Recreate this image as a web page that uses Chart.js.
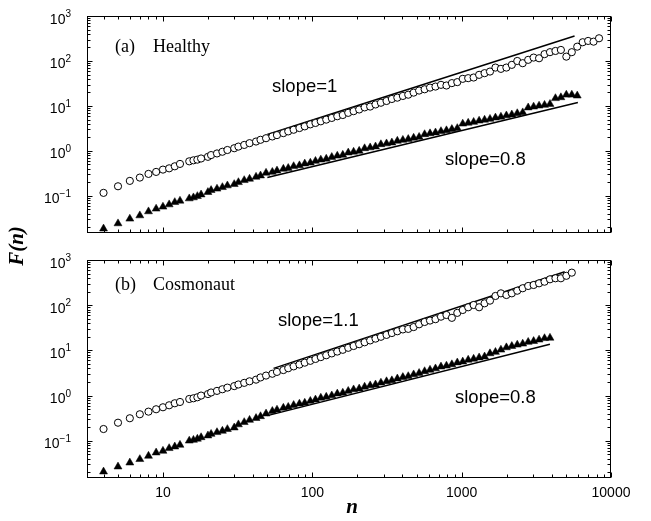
<!DOCTYPE html>
<html>
<head>
<meta charset="utf-8">
<script src="https://cdn.jsdelivr.net/npm/chart.js@4.4.1/dist/chart.umd.min.js"></script>
<style>
body { margin: 0; background: #fff; width: 651px; height: 521px; position: relative; overflow: hidden; }
canvas { position: absolute; left: 0; }
#healthy { top: 0; }
#cosmonaut { top: 245px; }
#ytitle {
    position: absolute; left: -19px; top: 234px; width: 70px; height: 24px;
    line-height: 24px; text-align: center; transform: rotate(-90deg);
    font: italic bold 21px 'Liberation Serif', 'Times New Roman', serif;
}
</style>
</head>
<body>
<canvas id="healthy" width="651" height="245"></canvas>
<canvas id="cosmonaut" width="651" height="276"></canvas>
<div id="ytitle">F(n)</div>
<script>
// window sizes n (shared by all four series)
const nValues = [4, 5, 6, 7, 8, 9, 10, 11, 12, 13, 15, 16, 17,
    18, 20, 21, 23, 25, 27, 30, 32, 35, 38, 42, 45, 49, 54, 58, 64, 69, 75, 82, 89, 97,
    105, 114, 124, 135, 147, 160, 174, 189, 206, 224, 244, 265, 288, 314, 341, 371, 404, 439, 477,
    519, 565, 614, 668, 727, 791, 860, 935, 1017, 1106, 1203, 1309, 1424, 1548, 1684, 1832, 1993,
    2167, 2357, 2564, 2789, 3033, 3299, 3589, 3903, 4246, 4618, 5023, 5464, 5942, 6463, 7030, 7647, 8317];

// (a) Healthy: open circles / filled triangles
const healthyOpen = [0.117, 0.164, 0.216, 0.256, 0.309, 0.342, 0.385, 0.411, 0.456, 0.515, 0.588, 0.619, 0.641,
    0.68, 0.74, 0.81, 0.88, 0.96, 1.05, 1.15, 1.25, 1.36, 1.49, 1.62, 1.77, 1.92, 2.10, 2.25, 2.49, 2.72, 2.96,
    3.23, 3.52, 3.9, 4.19, 4.56, 4.97, 5.42, 5.91, 6.3, 7.03, 7.66, 8.35, 9.3, 9.7, 10.8, 11.8, 12.9, 14.3,
    15.3, 16.7, 17.8, 19.8, 22.0, 23.5, 25.6,
    27.0, 29.5, 28.5, 32.2, 33.9, 40.1, 41.5, 42.9, 49.2, 53.6, 58.2, 71.4, 66.8, 71.4, 82, 100, 89.3, 106,
    119, 115, 142, 157, 167, 176, 125, 157, 208, 261, 279, 269, 320];
const healthyFilled = [0.0187, 0.0244, 0.031, 0.0367, 0.0451, 0.0518, 0.0573, 0.0644, 0.0724, 0.0778, 0.0875, 0.0922, 0.0985,
    0.107, 0.121, 0.134, 0.144, 0.156, 0.170, 0.182, 0.201, 0.223, 0.239, 0.265, 0.283, 0.325,
    0.340, 0.364, 0.398, 0.416, 0.456, 0.476, 0.521, 0.545, 0.596, 0.638, 0.667, 0.730, 0.780, 0.815,
    0.914, 0.955, 1.00, 1.14, 1.19, 1.25, 1.40, 1.46, 1.53, 1.67, 1.75, 1.83, 1.95, 2.04, 2.34, 2.45,
    2.56, 2.74, 2.86, 3.05, 3.20, 4.02, 4.20, 4.39, 4.69, 4.91, 5.13, 5.48, 5.73, 6.12, 6.41, 6.85, 7.16,
    9.20, 9.62, 10.1, 10.5, 11.0, 14.8, 15.5, 17.7, 17.7, 16.9];

// (b) Cosmonaut
const cosmoOpen = [0.182, 0.251, 0.315, 0.386, 0.441, 0.498, 0.551, 0.610, 0.676, 0.722, 0.841, 0.871, 0.917,
    1.00, 1.08, 1.17, 1.27, 1.38, 1.50, 1.62, 1.76, 1.91, 2.07, 2.25, 2.52, 2.77, 3.04, 3.34, 3.67, 4.03,
    4.43, 4.86, 5.35, 5.87, 6.46, 7.10, 7.80, 8.57, 9.42, 10.3, 11.4, 12.5, 13.7, 15.1, 16.6, 18.2, 20.0,
    22.0, 24.2, 26.5, 29.1, 29.9, 32.8, 37.8, 42.5, 45.7, 49.0, 55.7, 60.7, 52.5, 67.6, 78.3, 89.9, 101,
    89.9, 110, 126, 160, 183, 168, 183, 209, 237, 266, 280, 305, 331, 374, 394, 394, 447, 525];
const cosmoFilled = [0.0207, 0.0267, 0.0327, 0.039, 0.0461, 0.0546, 0.0595, 0.0682, 0.074, 0.0807, 0.100, 0.104, 0.110,
    0.119, 0.130, 0.141, 0.154, 0.165, 0.180, 0.195, 0.229, 0.257, 0.288, 0.316, 0.347, 0.398,
    0.453, 0.485, 0.533, 0.558, 0.614, 0.658, 0.689, 0.757, 0.811, 0.891, 0.933, 1.00, 1.10, 1.15, 1.26,
    1.36, 1.42, 1.56, 1.67, 1.75, 1.92, 2.06, 2.16, 2.37, 2.55, 2.67, 2.92, 3.14, 3.44, 3.70, 3.96, 4.35,
    4.56, 4.89, 5.37, 5.62, 6.17, 6.47, 6.93, 7.27, 8.55, 9.18, 10.3, 11.6, 12.4, 13.3, 14.0, 15.3, 16.0,
    17.2, 18.5, 18.9];

// fitted power laws (end points)
const healthyFit1N = [50, 5700], healthyFit1 = [2.32, 360];
const healthyFit08N = [50, 6000], healthyFit08 = [0.256, 12.0];
const cosmoFit11N = [55, 4900], cosmoFit11 = [4.0, 551];
const cosmoFit08N = [50, 3900], cosmoFit08 = [0.36, 13.6];

const xMajor = [10, 100, 1000, 10000];
const xLabels = ['10', '100', '1000', '10000'];
const yMajor = [0.1, 1, 10, 100, 1000];
const yExponents = ['\u22121', '0', '1', '2', '3'];

const SANS = "'Liberation Sans', Arial, sans-serif";
const SERIF = "'Liberation Serif', 'Times New Roman', serif";

function minorTicks(decades, lo, hi) {
    const out = [];
    decades.forEach(d => {
        for (let m = 2; m <= 9; m++) {
            const v = d * m;
            if (v > lo && v < hi) out.push(v);
        }
    });
    return out;
}
const xMinor = minorTicks([1, 10, 100, 1000], 3.1, 10000);
const yMinor = minorTicks([0.01, 0.1, 1, 10, 100], 0.015, 1000);

function pts(ns, fs) {
    return fs.map((f, i) => ({x: ns[i], y: f}));
}

const frame = {
    id: 'frame',
    afterDraw(chart, args, o) {
        const {ctx, chartArea: a} = chart;
        const xs = chart.scales.x, ys = chart.scales.y;
        const L = Math.round(a.left) + 0.5, R = Math.round(a.right) - 0.5;
        const T = Math.round(a.top) + 0.5, B = Math.round(a.bottom) - 0.5;
        ctx.save();
        ctx.strokeStyle = '#000';
        ctx.lineWidth = 1;
        ctx.strokeRect(L, T, R - L, B - T);
        ctx.beginPath();
        const xt = (v, len) => {
            const px = Math.round(xs.getPixelForValue(v)) + 0.5;
            ctx.moveTo(px, B); ctx.lineTo(px, B - len);
            ctx.moveTo(px, T); ctx.lineTo(px, T + len);
        };
        const yt = (v, len) => {
            const py = Math.round(ys.getPixelForValue(v)) + 0.5;
            ctx.moveTo(L, py); ctx.lineTo(L + len, py);
            ctx.moveTo(R, py); ctx.lineTo(R - len, py);
        };
        xMajor.forEach(v => xt(v, 5));
        xMinor.forEach(v => xt(v, 3));
        yMajor.forEach(v => yt(v, 5));
        yMinor.forEach(v => yt(v, 3));
        ctx.stroke();

        ctx.fillStyle = '#000';
        ctx.textBaseline = 'alphabetic';
        // y tick labels 10^e
        yMajor.forEach((v, i) => {
            const py = ys.getPixelForValue(v);
            ctx.font = '10px ' + SANS;
            ctx.textAlign = 'right';
            const sw = ctx.measureText(yExponents[i]).width;
            ctx.fillText(yExponents[i], 71, py + 1);
            ctx.font = '14px ' + SANS;
            ctx.fillText('10', 71 - sw, py + 7.5);
        });
        if (o.xLabels) {
            ctx.font = '14px ' + SANS;
            ctx.textAlign = 'center';
            xMajor.forEach((v, i) => {
                ctx.fillText(xLabels[i], xs.getPixelForValue(v), B + 19);
            });
            ctx.font = 'italic bold 21px ' + SERIF;
            ctx.fillText('n', 352, B + 35);
        }
        ctx.textAlign = 'left';
        ctx.font = '18px ' + SERIF;
        ctx.fillText(o.tag, 115, o.tagY);
        ctx.fillText(o.name, 153, o.tagY);
        ctx.font = '18.5px ' + SANS;
        o.notes.forEach(t => ctx.fillText(t.text, t.x, t.y));
        ctx.restore();
    }
};

function makePanel(id, open, filled, fitA, fitB, cfg) {
    const marks = [
        {data: pts(nValues, open), pointStyle: 'circle', pointRadius: 3.6,
            borderColor: '#000', backgroundColor: '#fff', borderWidth: 1, order: 1},
        {data: pts(nValues, filled), pointStyle: 'triangle', pointRadius: 4.6,
            borderColor: '#000', backgroundColor: '#000', borderWidth: 0.5, order: 0}
    ];
    const lines = [fitA, fitB].map(f => ({
        data: pts(f[0], f[1]), showLine: true, pointRadius: 0,
        borderColor: '#000', borderWidth: 1.5, order: 2
    }));
    return new Chart(document.getElementById(id), {
        type: 'scatter',
        data: {datasets: marks.concat(lines)},
        options: {
            responsive: false,
            animation: false,
            devicePixelRatio: 1,
            layout: {padding: {left: 0, right: 40, top: cfg.top, bottom: 0}},
            plugins: {legend: {display: false}, tooltip: {enabled: false}, frame: cfg},
            scales: {
                x: {
                    type: 'logarithmic', min: 3.1, max: 10000,
                    ticks: {display: false}, grid: {display: false, drawTicks: false}, border: {display: false},
                    afterFit(s) { s.height = cfg.xHeight; }
                },
                y: {
                    type: 'logarithmic', min: 0.015, max: 1000,
                    ticks: {display: false}, grid: {display: false, drawTicks: false}, border: {display: false},
                    afterFit(s) { s.width = 87; }
                }
            }
        },
        plugins: [frame]
    });
}

makePanel('healthy', healthyOpen, healthyFilled,
    [healthyFit1N, healthyFit1], [healthyFit08N, healthyFit08], {
        top: 16, xHeight: 12, xLabels: false, tag: '(a)', name: 'Healthy', tagY: 52,
        notes: [{text: 'slope=1', x: 272, y: 92}, {text: 'slope=0.8', x: 445, y: 165}]
    });
makePanel('cosmonaut', cosmoOpen, cosmoFilled,
    [cosmoFit11N, cosmoFit11], [cosmoFit08N, cosmoFit08], {
        top: 15, xHeight: 43, xLabels: true, tag: '(b)', name: 'Cosmonaut', tagY: 45,
        notes: [{text: 'slope=1.1', x: 278, y: 81}, {text: 'slope=0.8', x: 455, y: 158}]
    });
</script>
</body>
</html>
